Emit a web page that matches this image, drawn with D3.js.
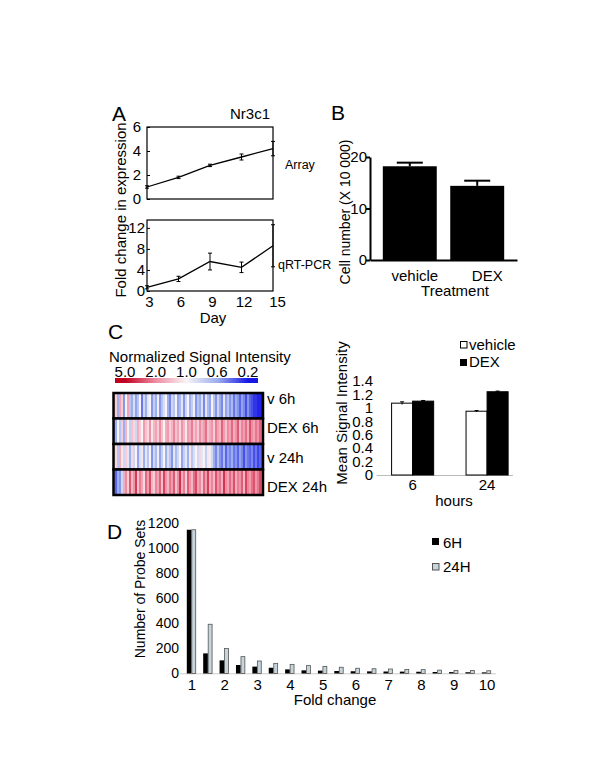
<!DOCTYPE html>
<html><head><meta charset="utf-8">
<script src="https://cdn.jsdelivr.net/npm/d3@7"></script>
<style>body{margin:0;background:#fff}svg{display:block;font-family:"Liberation Sans",Arial,sans-serif}</style>
</head><body><svg id="c" width="600" height="776"></svg>
<script>
// ---------- data ----------
const days = [3, 6, 9, 12, 15];
const arrayFold = [1.0, 1.8, 2.8, 3.5, 4.2];
const arrayErr = [0.1, 0.1, 0.1, 0.25, 0.6];
const pcrFold = [0.7, 2.3, 5.6, 4.5, 8.6];
const pcrErr = [0.3, 0.5, 1.6, 1.0, 4.0];
const arrayTicks = [0, 2, 4, 6];
const pcrTicks = [0, 4, 8, 12];

const treatments = ["vehicle", "DEX"];
const cellNumber = [18.2, 14.4];
const cellErr = [0.7, 1.0];
const cellTicks = [0, 10, 20];

const hours = ["6", "24"];
const vehicleSignal = [1.07, 0.95];
const dexSignal = [1.10, 1.24];
const vehicleSignalErr = [0.02, 0.01];
const dexSignalErr = [0.01, 0.01];
const signalTicks = [0, 0.2, 0.4, 0.6, 0.8, 1, 1.2, 1.4];

const colorbarLabels = ["5.0", "2.0", "1.0", "0.6", "0.2"];
const heatRowLabels = ["v 6h", "DEX 6h", "v 24h", "DEX 24h"];
const heatV6h = [1.7,1.3,0.6,1.7,1.3,0.5,1.0,1.7,0.7,0.6,
 0.85,0.55,0.7,1.0,0.4,0.8,0.6,0.9,1.0,0.5,
 0.75,0.6,0.95,0.5,0.7,0.85,1.0,0.6,0.45,0.8,
 0.7,1.0,0.55,0.65,0.9,0.5,0.8,1.0,0.6,0.75,
 0.95,0.5,0.7,0.6,0.85,0.45,0.9,0.65,0.55,1.0,
 0.7,0.5,0.8,0.6,0.45,0.9,0.55,0.7,0.5,0.65,
 0.4,0.6,0.5,0.35,0.55,0.45,0.3,0.5,0.35,0.3,
 0.25,0.25,0.22,0.22,0.2];
const heatDex6h = [0.5,0.6,1.0,0.7,1.3,0.6,1.5,1.0,0.75,1.4,
 1.2,0.8,1.6,1.3,1.0,1.8,1.4,1.2,1.9,1.1,
 1.5,1.7,1.3,2.0,1.4,1.0,1.6,1.8,1.3,1.5,
 2.1,1.4,1.7,1.2,1.9,1.5,1.1,1.8,1.6,2.2,
 1.4,1.7,1.3,2.0,1.5,1.8,2.4,1.4,1.6,1.9,
 1.3,2.2,1.7,1.5,2.6,1.8,1.4,2.0,1.7,2.5,
 1.6,1.9,2.8,1.5,2.1,1.8,2.4,1.6,2.9,2.0,
 1.7,2.3,1.9,2.6,2.2];
const heatV24h = [1.4,1.2,0.7,1.6,1.1,0.8,1.3,0.9,0.6,1.2,
 0.8,1.0,0.55,0.85,1.1,0.6,0.9,0.7,1.0,0.5,
 0.8,0.65,0.95,0.55,0.75,1.0,0.6,0.85,0.7,0.5,
 0.9,0.65,0.8,1.0,0.55,0.75,0.9,0.6,1.1,0.7,
 0.85,1.0,0.8,1.2,0.9,1.0,0.75,1.1,0.95,0.8,
 0.6,0.45,0.7,0.5,0.4,0.65,0.35,0.55,0.45,0.6,
 0.4,0.5,0.35,0.55,0.45,0.3,0.5,0.4,0.35,0.45,
 0.3,0.4,0.28,0.35,0.3];
const heatDex24h = [0.45,0.35,0.6,0.5,0.8,1.6,2.0,1.3,2.8,1.5,
 1.9,3.4,1.4,2.2,1.7,1.2,2.5,1.8,3.0,1.5,
 1.3,2.1,1.7,2.6,1.4,3.2,1.9,1.5,2.3,1.8,
 2.8,1.4,2.0,3.6,1.6,2.2,1.3,2.7,1.9,1.5,
 2.4,3.1,1.7,2.0,1.4,2.6,1.8,3.3,1.6,2.1,
 1.5,2.9,1.9,2.3,1.6,3.5,2.0,1.7,2.5,1.8,
 3.0,1.6,2.2,1.9,2.7,1.5,3.2,2.1,1.8,2.4,
 2.9,1.9,2.3,3.1,2.6];

const foldBins = [1,1.5,2,2.5,3,3.5,4,4.5,5,5.5,6,6.5,7,7.5,8,8.5,9,9.5,10];
const probes6H  = [1150,161,105,68,55,46,33,25,23,20,18,17,16,15,14,12,11,10,9];
const probes24H = [1150,394,200,135,100,81,73,63,57,50,42,38,36,33,31,27,25,24,22];
const foldTicks = [1,2,3,4,5,6,7,8,9,10];
const probeTicks = [0,200,400,600,800,1000,1200];

// ---------- drawing ----------
const svg = d3.select("#c");
svg.append("rect").attr("width", 600).attr("height", 776).attr("fill", "#fff");
const fmt = d3.format("~g");

function label(x, y, s, size, anchor, rot) {
  const t = svg.append("text").attr("font-size", size).attr("text-anchor", anchor || "start").text(s);
  if (rot) t.attr("transform", `translate(${x},${y}) rotate(${rot})`);
  else t.attr("x", x).attr("y", y);
  return t;
}
function styleAxis(g, size) {
  g.attr("font-family", null).attr("font-size", size);
  g.selectAll("text").attr("fill", "#000");
  g.selectAll("line").attr("stroke", "#000");
}

// Panel letters
label(112, 121, "A", 21);
label(331, 120, "B", 21);
label(108, 339, "C", 21);
label(107, 539, "D", 21);

// ===== Panel A =====
const xA = d3.scaleLinear().domain([3, 15]).range([147, 273]);
const yA1 = d3.scaleLinear().domain([0, 6]).range([199, 127]);
const yA2 = d3.scaleLinear().domain([0, 13.5]).range([291, 220]);

[[yA1, arrayTicks, 6, arrayFold, arrayErr], [yA2, pcrTicks, 2, pcrFold, pcrErr]].forEach(([y, ticks, pad, vals, errs]) => {
  svg.append("rect").attr("x", xA.range()[0]).attr("y", y.range()[1])
    .attr("width", xA.range()[1] - xA.range()[0]).attr("height", y.range()[0] - y.range()[1])
    .attr("fill", "none").attr("stroke", "#000").attr("stroke-width", 1.2);
  const g = svg.append("g").attr("transform", `translate(${xA.range()[0]},0)`)
    .call(d3.axisLeft(y).tickValues(ticks).tickSize(-3).tickPadding(pad).tickFormat(fmt));
  g.select(".domain").remove();
  styleAxis(g, 15);
  const line = d3.line().x((d, i) => xA(days[i])).y(d => y(d));
  svg.append("path").datum(vals).attr("d", line).attr("fill", "none").attr("stroke", "#000").attr("stroke-width", 1.3);
  const eb = svg.append("g").attr("stroke", "#000").attr("stroke-width", 1);
  vals.forEach((v, i) => {
    const x = xA(days[i]);
    eb.append("line").attr("x1", x).attr("x2", x).attr("y1", y(v - errs[i])).attr("y2", y(v + errs[i]));
    [v - errs[i], v + errs[i]].forEach(e => eb.append("line").attr("x1", x - 2).attr("x2", x + 2).attr("y1", y(e)).attr("y2", y(e)));
  });
});
{
  const g = svg.append("g").attr("transform", `translate(0,${yA2.range()[0]})`)
    .call(d3.axisBottom(xA).tickValues(days).tickSize(0).tickPadding(5).tickFormat(fmt));
  g.select(".domain").remove();
  styleAxis(g, 15);
  g.selectAll("text").attr("dx", (d) => d === 15 ? 4 : 2);
}
label(250, 119, "Nr3c1", 15, "middle");
label(285, 169, "Array", 12.5);
label(278, 269, "qRT-PCR", 12.5);
label(213, 323, "Day", 15, "middle");
label(126, 210, "Fold change in expression", 15, "middle", -90);

// ===== Panel B =====
const xB = d3.scaleBand().domain(treatments).range([370, 517]).paddingInner(0.2).paddingOuter(0.19);
const yB = d3.scaleLinear().domain([0, 20]).range([260, 157]);
svg.append("g").selectAll("rect").data(cellNumber).join("rect")
  .attr("x", (d, i) => xB(treatments[i])).attr("width", xB.bandwidth())
  .attr("y", d => yB(d)).attr("height", d => yB(0) - yB(d)).attr("fill", "#000");
cellNumber.forEach((v, i) => {
  const cx = xB(treatments[i]) + xB.bandwidth() / 2;
  svg.append("line").attr("x1", cx).attr("x2", cx).attr("y1", yB(v)).attr("y2", yB(v + cellErr[i])).attr("stroke", "#000").attr("stroke-width", 2);
  svg.append("line").attr("x1", cx - 13).attr("x2", cx + 13).attr("y1", yB(v + cellErr[i])).attr("y2", yB(v + cellErr[i])).attr("stroke", "#000").attr("stroke-width", 2);
});
{
  const g = svg.append("g").attr("transform", "translate(370,0)")
    .call(d3.axisLeft(yB).tickValues(cellTicks).tickSize(4).tickSizeOuter(0).tickPadding(-1).tickFormat(fmt));
  styleAxis(g, 15);
  g.selectAll("path,line").attr("stroke", "#000").attr("stroke-width", 2);
  const gx = svg.append("g").attr("transform", "translate(0,260)")
    .call(d3.axisBottom(xB).tickSize(0).tickPadding(10));
  styleAxis(gx, 15);
  gx.select(".domain").attr("stroke", "#000").attr("stroke-width", 2);
  gx.selectAll("text").attr("dx", d => d === "DEX" ? 10 : 5);
}
label(455, 296, "Treatment", 15, "middle");
label(350, 212, "Cell number (X 10 000)", 14, "middle", -90);

// ===== Panel C heatmap =====
label(109, 362, "Normalized Signal Intensity", 15);
const heatColor = d3.scaleLog().domain([0.2, 0.6, 1, 2, 5])
  .range(["#1616e6", "#9db0ee", "#f8f4f6", "#ee8ca2", "#c00020"]).clamp(true);
const cbX = d3.scalePoint().domain(colorbarLabels).range([125, 248]);
const cbLeft = 115, cbRight = 258;
const grad = svg.append("defs").append("linearGradient").attr("id", "cb");
grad.append("stop").attr("offset", 0).attr("stop-color", heatColor(5));
colorbarLabels.forEach(l => grad.append("stop")
  .attr("offset", (cbX(l) - cbLeft) / (cbRight - cbLeft)).attr("stop-color", heatColor(+l)));
grad.append("stop").attr("offset", 1).attr("stop-color", heatColor(0.2));
svg.append("rect").attr("x", cbLeft).attr("y", 378).attr("width", cbRight - cbLeft).attr("height", 5).attr("fill", "url(#cb)");
colorbarLabels.forEach(l => label(cbX(l), 377, l, 15, "middle"));

const heatData = [heatV6h, heatDex6h, heatV24h, heatDex24h];
const hx = d3.scaleBand().domain(d3.range(heatV6h.length)).range([113.5, 263]);
const hy = d3.scaleBand().domain(heatRowLabels).range([393, 495]);
heatData.forEach((row, r) => {
  svg.append("g").attr("shape-rendering", "crispEdges").selectAll("rect").data(row).join("rect")
    .attr("x", (d, i) => hx(i)).attr("width", hx.bandwidth() + 0.3)
    .attr("y", hy(heatRowLabels[r])).attr("height", hy.bandwidth())
    .attr("fill", d => heatColor(d));
  svg.append("rect").attr("x", 113.5).attr("y", hy(heatRowLabels[r]))
    .attr("width", 263 - 113.5).attr("height", hy.bandwidth())
    .attr("fill", "none").attr("stroke", "#000").attr("stroke-width", 2.5);
});
const rowLabelY = [404, 433, 463, 492];
heatRowLabels.forEach((l, i) => label(267, rowLabelY[i], l, 15));

// ===== Panel C bars =====
const xC0 = d3.scaleBand().domain(hours).range([376.7, 523]).paddingInner(0.435).paddingOuter(0.2);
const xC1 = d3.scaleBand().domain(["vehicle", "DEX"]).range([0, xC0.bandwidth()]);
const yC = d3.scaleLinear().domain([0, 1.4]).range([475, 381]);
svg.append("line").attr("x1", 376.7).attr("x2", 513).attr("y1", 475.5).attr("y2", 475.5).attr("stroke", "#bbb");
[[vehicleSignal, vehicleSignalErr, "vehicle", "#fff"], [dexSignal, dexSignalErr, "DEX", "#000"]].forEach(([vals, errs, key, fill]) => {
  vals.forEach((v, i) => {
    const x = xC0(hours[i]) + xC1(key);
    svg.append("rect").attr("x", x).attr("width", xC1.bandwidth()).attr("y", yC(v)).attr("height", yC(0) - yC(v))
      .attr("fill", fill).attr("stroke", "#000").attr("stroke-width", 1);
    const cx = x + xC1.bandwidth() / 2;
    svg.append("line").attr("x1", cx).attr("x2", cx).attr("y1", yC(v - errs[i])).attr("y2", yC(v + errs[i])).attr("stroke", "#000");
    svg.append("line").attr("x1", cx - 2).attr("x2", cx + 2).attr("y1", yC(v + errs[i])).attr("y2", yC(v + errs[i])).attr("stroke", "#000");
  });
});
{
  const g = svg.append("g").attr("transform", "translate(376,0)")
    .call(d3.axisLeft(yC).tickValues(signalTicks).tickSize(0).tickPadding(3).tickFormat(fmt));
  g.select(".domain").remove();
  styleAxis(g, 15);
  const gx = svg.append("g").attr("transform", "translate(0,475)")
    .call(d3.axisBottom(xC0).tickSize(0).tickPadding(4));
  gx.select(".domain").remove();
  styleAxis(gx, 15);
}
label(454, 506, "hours", 15, "middle");
label(347, 413, "Mean Signal Intensity", 15, "middle", -90);
svg.append("rect").attr("x", 460.5).attr("y", 341.5).attr("width", 6.5).attr("height", 6.5).attr("fill", "#fff").attr("stroke", "#000");
label(469, 350, "vehicle", 15);
svg.append("rect").attr("x", 460).attr("y", 359).attr("width", 7).attr("height", 7).attr("fill", "#000");
label(469, 367, "DEX", 15);

// ===== Panel D =====
const xD = d3.scaleLinear().domain([1, 10]).range([191.5, 486.5]);
const yD = d3.scaleLinear().domain([0, 1200]).range([673.5, 523.5]);
const bw = 4.7;
svg.append("line").attr("x1", 180).attr("x2", 496).attr("y1", 673.8).attr("y2", 673.8).attr("stroke", "#ccc");
svg.append("g").selectAll("rect").data(probes6H).join("rect")
  .attr("x", (d, i) => xD(foldBins[i]) - bw).attr("width", bw)
  .attr("y", d => yD(d)).attr("height", d => yD(0) - yD(d)).attr("fill", "#000");
svg.append("g").selectAll("rect").data(probes24H).join("rect")
  .attr("x", (d, i) => xD(foldBins[i]) + 0.3).attr("width", bw - 0.8)
  .attr("y", d => yD(d)).attr("height", d => yD(0) - yD(d))
  .attr("fill", "#c6d4dc").attr("stroke", "#555").attr("stroke-width", 0.8);
{
  const g = svg.append("g").attr("transform", "translate(180,0)")
    .call(d3.axisLeft(yD).tickValues(probeTicks).tickSize(0).tickPadding(1).tickFormat(d3.format("d")));
  g.select(".domain").remove();
  styleAxis(g, 14);
  const gx = svg.append("g").attr("transform", "translate(0,674)")
    .call(d3.axisBottom(xD).tickValues(foldTicks).tickSize(0).tickPadding(5).tickFormat(fmt));
  gx.select(".domain").remove();
  styleAxis(gx, 15);
}
label(335, 705, "Fold change", 15, "middle");
label(145, 589, "Number of Probe Sets", 14, "middle", -90);
svg.append("rect").attr("x", 432).attr("y", 538).attr("width", 7).attr("height", 7).attr("fill", "#000");
label(443, 548, "6H", 15);
svg.append("rect").attr("x", 432.5).attr("y", 563.5).attr("width", 6.5).attr("height", 6.5).attr("fill", "#c6d4dc").attr("stroke", "#555");
label(443, 572, "24H", 15);
</script></body></html>
